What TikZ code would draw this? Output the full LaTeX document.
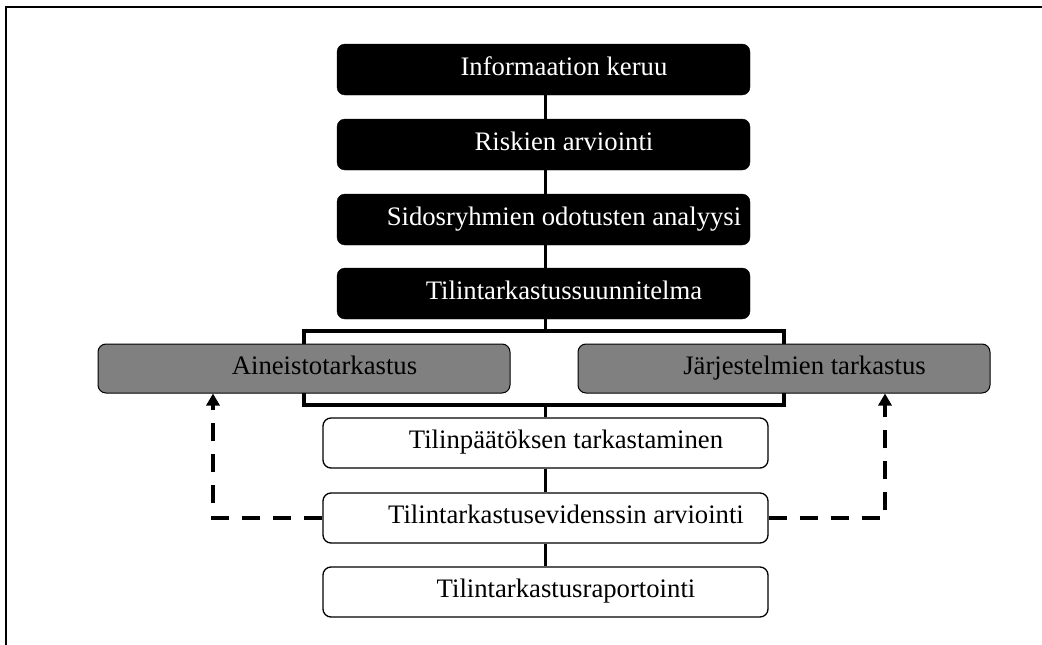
\documentclass[tikz,border=0pt]{standalone}
\usepackage{fontspec}
\setmainfont{Liberation Serif}
\usetikzlibrary{arrows.meta}
\definecolor{boxgray}{HTML}{808080}
\newcommand{\shiftedtext}[1]{\hspace*{41pt}#1}
\begin{document}
\begin{tikzpicture}[x=1pt,y=-1pt,
  lbl/.style={font=\fontsize{26.7}{30}\selectfont, text height=17pt, text depth=6pt, inner sep=0pt},
  blackbox/.style={lbl, rectangle, rounded corners=8pt, fill=black, draw=black, text=white, minimum width=413pt, minimum height=51pt},
  graybox/.style={lbl, rectangle, rounded corners=8pt, fill=boxgray, draw=black, line width=1pt, minimum width=412pt, minimum height=49pt},
  whitebox/.style={lbl, rectangle, rounded corners=8pt, fill=white, draw=black, line width=1.3pt, minimum width=445pt, minimum height=50pt},
  bracket/.style={rectangle, draw=black, line width=3.5pt, minimum width=480pt, minimum height=74pt, inner sep=0pt},
  conn/.style={draw=black, line width=3.5pt},
  dasharrow/.style={draw=black, line width=4pt, dash pattern=on 18pt off 13pt, -{Triangle[width=13pt,length=12pt]}}
]
\useasboundingbox (0,0) rectangle (1042,645);
\draw[line width=2pt] (6,645) -- (6,7) -- (1042,7);
\coordinate (axis) at (545.5,0);
\coordinate (lc) at (213,0);
\coordinate (rc) at (885,0);
% black boxes
\node[blackbox] (b1) at (543.5,69.5) {\shiftedtext{Informaation keruu}};
\node[blackbox] (b2) at (543.5,144.5) {\shiftedtext{Riskien arviointi}};
\node[blackbox] (b3) at (543.5,219.5) {\shiftedtext{Sidosryhmien odotusten analyysi}};
\node[blackbox] (b4) at (543.5,293.5) {\shiftedtext{Tilintarkastussuunnitelma}};
% bracket and gray boxes
\node[bracket] (br) at (544,368) {};
\node[graybox] (g1) at (304,368.5) {\shiftedtext{Aineistotarkastus}};
\node[graybox] (g2) at (784,368.5) {\shiftedtext{Järjestelmien tarkastus}};
% white boxes
\node[whitebox] (w1) at (545.5,443) {\shiftedtext{Tilinpäätöksen tarkastaminen}};
\node[whitebox] (w2) at (545.5,518) {\shiftedtext{Tilintarkastusevidenssin arviointi}};
\node[whitebox] (w3) at (545.5,592) {\shiftedtext{Tilintarkastusraportointi}};
% connectors
\draw[conn] (b1.south -| axis) -- (b2.north -| axis);
\draw[conn] (b2.south -| axis) -- (b3.north -| axis);
\draw[conn] (b3.south -| axis) -- (b4.north -| axis);
\draw[conn] (b4.south -| axis) -- (br.north -| axis);
\draw[conn] (br.south -| axis) -- (w1.north -| axis);
\draw[conn] (w1.south -| axis) -- (w2.north -| axis);
\draw[conn] (w2.south -| axis) -- (w3.north -| axis);
% dashed feedback arrows
\draw[dasharrow] (w2.west) -| (g1.south -| lc);
\draw[dasharrow] (w2.east) -| (g2.south -| rc);
\end{tikzpicture}
\end{document}
